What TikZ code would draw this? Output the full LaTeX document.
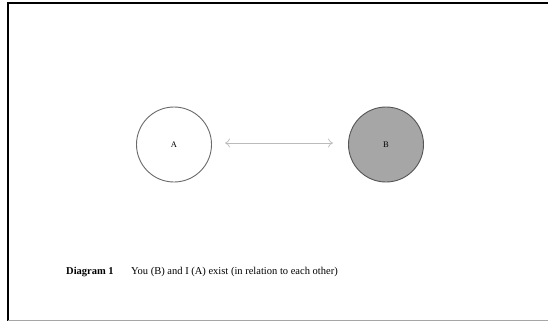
\documentclass[tikz,border=0pt]{standalone}
\usepackage{fontspec}
\setmainfont{Liberation Serif}
\usetikzlibrary{arrows.meta}
\definecolor{bfill}{HTML}{A6A6A6}
\definecolor{bline}{HTML}{555555}
\definecolor{aline}{HTML}{6A6A6A}
\definecolor{arrowc}{HTML}{BBBBBB}
\begin{document}
\begin{tikzpicture}[x=1pt,y=-1pt,
  circ/.style={circle,minimum size=75pt,inner sep=0pt,line width=0.9pt,font=\fontsize{8.5}{9}\selectfont},
  link/.style={draw=arrowc,line width=0.7pt,{To[length=5pt,width=9pt]}-{To[length=5pt,width=9pt]}},
  captext/.style={anchor=base west,font=\fontsize{10.5}{12}\selectfont,inner sep=0pt}]
\useasboundingbox (0,0) rectangle (548,322);
\fill[white] (0,0) rectangle (548,322);
\draw[line width=2pt] (7.5,3) -- (548,3);
\draw[line width=2.4pt] (8,2) -- (8,321);
\draw[gray!70,line width=1pt] (8,320.5) -- (548,320.5);
\node[circ,draw=aline] (A) at (174,144.5) {A};
\node[circ,draw=bline,fill=bfill] (B) at (386,144.5) {B};
\coordinate (al) at (225,143);
\coordinate (ar) at (333,143);
\draw[link] (al) -- (ar);
\node[captext] (d1) at (66,274) {\textbf{Diagram 1}};
\node[captext] (d2) at (131,274) {You (B) and I (A) exist (in relation to each other)};
\end{tikzpicture}
\end{document}
